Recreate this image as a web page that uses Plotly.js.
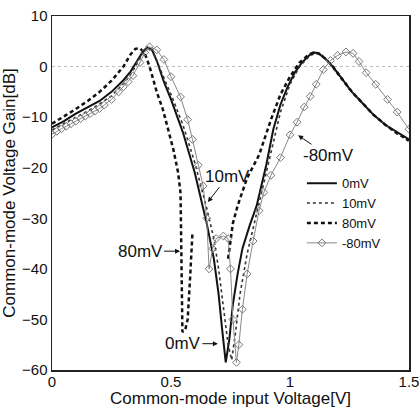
<!DOCTYPE html>
<html><head><meta charset="utf-8">
<script src="https://cdn.plot.ly/plotly-3.0.1.min.js"></script>
<style>html,body{margin:0;padding:0;background:#fff}#chart{width:419px;height:409px}</style>
</head><body><div id="chart"></div>
<script>
// 0mV (solid)
const x0mV = [0,0.05,0.1,0.15,0.2,0.25,0.3,0.33,0.36,0.38,0.40,0.42,0.44,0.47,0.5,0.55,0.6,0.65,0.68,0.70,0.715,0.73,0.745,0.76,0.78,0.80,0.83,0.86,0.90,0.93,0.96,0.99,1.02,1.05,1.08,1.10,1.12,1.15,1.18,1.22,1.26,1.30,1.35,1.40,1.45,1.5];
const y0mV = [-12,-10.8,-9.3,-8,-6.8,-5,-2.7,-1,1.3,2.8,3.8,3.3,1.2,-3,-6.5,-13,-21,-31,-38,-45,-52,-58.5,-54,-47,-41,-36,-31.5,-27.5,-19.5,-12.4,-7.5,-4,-1.2,0.8,2.2,2.8,2.6,1.5,0,-2.5,-5,-7,-9.5,-11.5,-13,-14.4];
// 10mV (dotted)
const x10mV = [0,0.05,0.1,0.15,0.2,0.25,0.3,0.33,0.36,0.38,0.40,0.42,0.45,0.5,0.55,0.6,0.65,0.68,0.70,0.72,0.74,0.755,0.77,0.79,0.82,0.86,0.90,0.93,0.96,1.0,1.04,1.08,1.11,1.13,1.16,1.2,1.25,1.3,1.35,1.4,1.45,1.5];
const y10mV = [-12.5,-11.3,-10,-8.8,-7.4,-5.8,-3.4,-1.6,0.8,2.5,3.6,3.4,0,-5.5,-11.5,-19,-28,-34,-40,-48,-55,-58,-53,-45,-37,-29,-21,-14.5,-9,-3.5,0,2,2.8,2.5,1,-1.5,-4.5,-7,-9.5,-11.5,-13.2,-14.8];
// 80mV (dashed); null marks the unplotted stretch
const x80mV = [0,0.05,0.1,0.15,0.2,0.25,0.3,0.33,0.35,0.37,0.39,0.41,0.44,0.466,0.49,0.51,0.53,0.54,0.543,0.545,0.548,0.56,0.57,0.58,0.59,null,0.74,0.76,0.78,0.82,0.87,0.92,0.96,1.0,1.04,1.08,1.10,1.12,1.15,1.18,1.22,1.26,1.30,1.35,1.40,1.45,1.5];
const y80mV = [-11.3,-9.9,-8.4,-6.8,-5,-2.8,0,2.4,3.5,3.6,2.6,0,-5,-8.5,-13,-16.4,-21,-25,-35,-45,-52.5,-52,-50,-42,-33,null,-38,-31,-27.5,-22,-17.5,-10.5,-5.5,-2,0.8,2.4,2.8,2.6,1.5,0,-2.5,-5,-7,-9.5,-11.5,-13.2,-14.6];
// -80mV (diamonds)
const xm80mV = [0,0.02,0.04,0.06,0.08,0.1,0.12,0.14,0.16,0.18,0.2,0.22,0.25,0.28,0.3,0.32,0.34,0.37,0.39,0.41,0.44,0.47,0.5,0.54,0.57,0.59,0.615,0.635,0.65,0.66,0.675,0.69,0.72,0.74,0.75,0.76,0.775,0.785,0.80,0.82,0.845,0.87,0.89,0.92,0.96,1.0,1.03,1.06,1.085,1.11,1.14,1.17,1.20,1.235,1.265,1.29,1.32,1.36,1.41,1.45,1.5];
const ym80mV = [-13.4,-12.8,-12.3,-11.8,-11.3,-10.8,-10.3,-9.8,-9.3,-8.8,-8.3,-7.6,-6.5,-5,-4,-3,-1.8,0.8,2.8,3.9,3.3,1.4,-2,-6,-10.5,-14.4,-19.5,-23.6,-30,-40,-36,-34,-33.5,-34,-40,-50,-58.5,-55,-48,-41,-34.5,-28.5,-24.9,-21.5,-18,-13.5,-11,-8,-5.9,-3.5,-0.6,1.2,2.2,2.9,2.6,1,-1.2,-3.5,-6.5,-9,-12.4];

const xTicks = [0,0.5,1,1.5];
const xTickText = ['0','0.5','1','1.5'];
const yTicks = [10,0,-10,-20,-30,-40,-50,-60];

const F = 'Liberation Sans, Arial, sans-serif';

const traces = [
  {x:x0mV, y:y0mV, name:'0mV', mode:'lines', line:{color:'#111', width:2}},
  {x:x10mV, y:y10mV, name:'10mV', mode:'lines', line:{color:'#333', width:1.6, dash:'dot'}},
  {x:x80mV, y:y80mV, name:'80mV', mode:'lines', connectgaps:false, line:{color:'#111', width:2.5, dash:'4px,3px'}},
  {x:xm80mV, y:ym80mV, name:'-80mV', mode:'lines+markers', line:{color:'#888', width:1},
   marker:{symbol:'diamond-open', size:6, color:'#777', line:{width:1}}}
];

const layout = {
  width:419, height:409,
  margin:{l:52, r:10, t:16, b:39},
  paper_bgcolor:'#fff', plot_bgcolor:'#fff',
  font:{family:F, color:'#111'},
  showlegend:true,
  legend:{x:0.70, y:0.57, xanchor:'left', yanchor:'top', font:{size:13, family:F}, bgcolor:'rgba(0,0,0,0)',
          tracegroupgap:0, itemwidth:30},
  xaxis:{range:[0,1.5], tickvals:xTicks, ticktext:xTickText, showgrid:false, zeroline:false,
         showline:true, mirror:true, linecolor:'#222', linewidth:1.5, ticks:'', tickfont:{size:15, family:F},
         ticklabelstandoff:-3, ticklabeloverflow:'allow',
         title:{text:'Common-mode input Voltage[V]', font:{size:17, family:F}, standoff:3}},
  yaxis:{range:[-60,10], tickvals:yTicks, showgrid:false, zeroline:false,
         showline:true, mirror:true, linecolor:'#222', linewidth:1.5, ticks:'', tickfont:{size:15, family:F},
         title:{text:'Common-mode Voltage Gain[dB]', font:{size:17, family:F}, standoff:4}},
  shapes:[{type:'line', xref:'paper', x0:0, x1:1, yref:'y', y0:0, y1:0, line:{color:'#bbb', width:1, dash:'dot'}, layer:'below'}],
  annotations:[
    {x:0.655, y:-26.8, text:'10mV', showarrow:true, ax:20, ay:-26, arrowhead:2, arrowsize:1, arrowwidth:1, arrowcolor:'#111', font:{size:17, family:F}},
    {x:1.034, y:-13.6, text:'-80mV', showarrow:true, ax:30, ay:20, arrowhead:2, arrowsize:1, arrowwidth:1, arrowcolor:'#111', font:{size:17, family:F}},
    {x:0.538, y:-36.5, text:'80mV', showarrow:true, ax:-40, ay:0, arrowhead:2, arrowsize:1, arrowwidth:1, arrowcolor:'#111', font:{size:17, family:F}},
    {x:0.697, y:-54.8, text:'0mV', showarrow:true, ax:-35, ay:0, arrowhead:2, arrowsize:1, arrowwidth:1, arrowcolor:'#111', font:{size:17, family:F}}
  ]
};
Plotly.newPlot('chart', traces, layout, {displayModeBar:false, staticPlot:true});
</script></body></html>
